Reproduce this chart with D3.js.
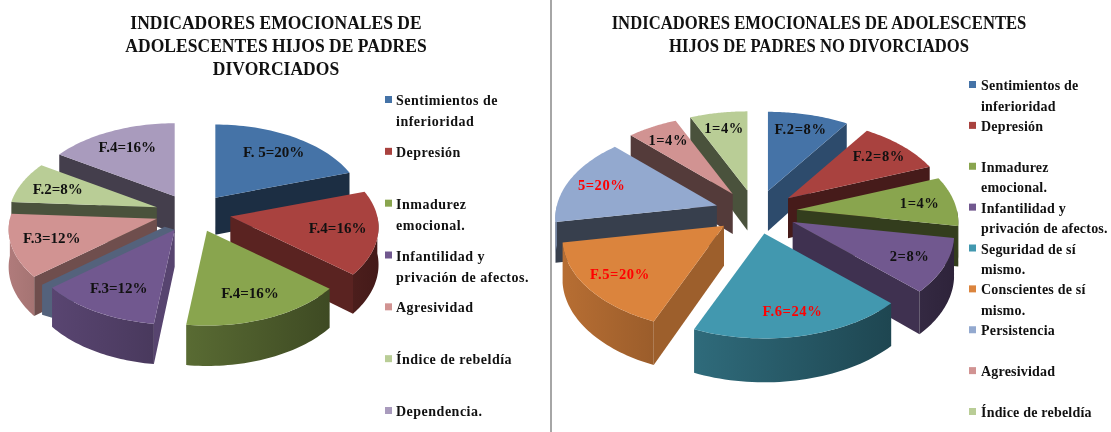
<!DOCTYPE html>
<html><head><meta charset="utf-8">
<script src="https://cdn.jsdelivr.net/npm/d3@7"></script>
<style>html,body{margin:0;padding:0;background:#fff}svg{display:block;filter:blur(0.45px)}text{font-family:"Liberation Serif",serif;font-weight:bold;fill:#111}</style>
</head><body><svg id="c" width="1111" height="432"></svg>
<script>
// ---- data ----
const leftTitle = ["INDICADORES EMOCIONALES DE","ADOLESCENTES HIJOS DE PADRES","DIVORCIADOS"];
const rightTitle = ["INDICADORES EMOCIONALES DE ADOLESCENTES","HIJOS DE PADRES NO DIVORCIADOS"];
const leftCategories = ["Sentimientos de|inferioridad","Depresión","Inmadurez|emocional.","Infantilidad y|privación de afectos.","Agresividad","Índice de rebeldía","Dependencia."];
const leftValues = [20,16,16,12,12,8,16];
const leftLabels = ["F. 5=20%","F.4=16%","F.4=16%","F.3=12%","F.3=12%","F.2=8%","F.4=16%"];
const leftKeys = ["blue","red","green","purple","pink","lime","lilac"];
const rightCategories = ["Sentimientos de|inferioridad","Depresión","Inmadurez|emocional.","Infantilidad y|privación de afectos.","Seguridad de sí|mismo.","Conscientes de sí|mismo.","Persistencia","Agresividad","Índice de rebeldía"];
// wedge sizes as drawn in the picture (the printed labels are hand-typed and differ)
const rightValues = [9.4,9.7,8.6,9.4,19.2,15.8,15.3,5.8,6.7];
const rightLabels = ["F.2=8%","F.2=8%","1=4%","2=8%","F.6=24%","F.5=20%","5=20%","1=4%","1=4%"];
const rightKeys = ["blue","red","green","purple","teal","orange","peri","pink","lime"];
const rightRed = ["F.6=24%","F.5=20%","5=20%"];
const palette = {blue:"#4573a7",red:"#a9423f",green:"#89a54e",purple:"#71588f",teal:"#4298af",orange:"#db843d",peri:"#93a9cf",pink:"#d19392",lime:"#b9cd96",lilac:"#a99bbd"};

const svg = d3.select("#c");
const defs = svg.append("defs");
const line = d3.line().curve(d3.curveLinear);
let gid = 0;
const HALF = Math.PI/2, TAU = 2*Math.PI;

function pie3d(o){
  const g = svg.append("g");
  const arcs = d3.pie().sort(null).startAngle(0).endAngle(TAU)(o.values);
  const project = (a,f,b,d)=>{
    const u=Math.sin(a)*f, v=-Math.cos(a)*f, s=1+o.k*v;
    const ax=o.cx+o.ex*Math.sin(b), ay=o.cy-o.ey*Math.cos(b);
    return [ax+o.R*u*s, ay+o.ry*v*s+d*(1+o.k*0.7*v)];
  };
  const items = arcs.map((d,i)=>({d,i,mid:(d.startAngle+d.endAngle)/2}));
  items.sort((p,q)=>(-Math.cos(p.mid))-(-Math.cos(q.mid)));
  items.forEach(it=>{
    const {d,i,mid}=it, col=d3.color(palette[o.keys[i]]);
    const dk=(c,f)=>d3.rgb(c.r*f,c.g*f,c.b*f).formatHex();
    const wall=(a)=>{
      const f=a>3*HALF ? 0.4 : 0.36+0.42*Math.pow(Math.cos(a),2);
      g.append("path").attr("d",line([project(a,0,mid,0),project(a,1,mid,0),project(a,1,mid,o.depth),project(a,0,mid,o.depth)])+"Z").attr("fill",dk(col,f));
    };
    if(Math.sin(d.startAngle)<0) wall(d.startAngle);
    if(Math.sin(d.endAngle)>0) wall(d.endAngle);
    if(o.ghost && o.ghost.i===i){
      const G=o.ghost, a=d.endAngle, A=project(a,0,mid,0), O=project(a,1,mid,0);
      g.append("path").attr("d",line([[A[0]+G.dx,A[1]+G.dy],[O[0]+G.dx,O[1]+G.dy],[O[0]+G.dx,O[1]+G.dy+G.h],[O[0],O[1]+G.h],A])+"Z").attr("fill",G.fill);
    }
    const a0=Math.max(d.startAngle,HALF), a1=Math.min(d.endAngle,3*HALF);
    if(a1>a0){
      const N=40, th=d3.range(N+1).map(j=>a0+(a1-a0)*j/N);
      const outer=th.map(a=>project(a,1,mid,0)), outerB=th.map(a=>project(a,1,mid,o.depth)).reverse();
      const id="w"+(gid++), lit=a=>0.62-0.22*Math.sin(a);
      const gr=defs.append("linearGradient").attr("id",id).attr("gradientUnits","userSpaceOnUse")
        .attr("x1",d3.min(outer,p=>p[0])).attr("x2",d3.max(outer,p=>p[0])).attr("y1",0).attr("y2",0);
      gr.append("stop").attr("offset",0).attr("stop-color",dk(col,lit(a1)));
      gr.append("stop").attr("offset",1).attr("stop-color",dk(col,lit(a0)));
      g.append("path").attr("d",line(outer.concat(outerB))+"Z").attr("fill",`url(#${id})`);
    }
    const N2=40, rim=d3.range(N2+1).map(j=>project(d.startAngle+(d.endAngle-d.startAngle)*j/N2,1,mid,0));
    g.append("path").attr("d",line([project(0,0,mid,0)].concat(rim))+"Z").attr("fill",col.formatHex());
  });
  items.sort((p,q)=>p.i-q.i).forEach(it=>{
    const [x,y]=project(it.mid,o.labelF,it.mid,0), t=o.labels[it.i];
    g.append("text").attr("x",x).attr("y",y+5).attr("text-anchor","middle")
     .attr("font-size",o.labelSize).style("letter-spacing",o.labelSpacing+"px")
     .style("fill",o.redLabels.includes(t)?"#ff0000":"#111").text(t);
  });
}

function title(lines,cx,y0,dy,size,sx){
  lines.forEach((t,i)=>svg.append("text").attr("text-anchor","middle")
    .attr("transform",`translate(${cx},${y0+i*dy}) scale(${sx},1)`)
    .attr("font-size",size).text(t));
}
function legend(o){
  const y=d3.scalePoint().domain(o.cats).range([o.y0,o.y1]);
  o.cats.forEach((c,i)=>{
    svg.append("rect").attr("x",o.x).attr("y",y(c)-4).attr("width",7).attr("height",7).attr("fill",palette[o.keys[i]]);
    c.split("|").forEach((t,j)=>svg.append("text").attr("x",o.x+o.tx).attr("y",y(c)+5+j*o.lh)
      .attr("font-size",o.size).style("letter-spacing",o.spacing+"px").text(t));
  });
}

svg.append("line").attr("x1",551).attr("x2",551).attr("y1",0).attr("y2",432).attr("stroke","#a6a6a6").attr("stroke-width",2);

pie3d({values:leftValues,keys:leftKeys,labels:leftLabels,redLabels:[],cx:193,cy:213,ex:38,ey:19,R:147,ry:84,k:0.13,depth:37,labelF:0.73,labelSize:15,labelSpacing:0,ghost:{i:3,dx:-10,dy:-3,h:30,fill:"#54627c"}});
pie3d({values:rightValues,keys:rightKeys,labels:rightLabels,redLabels:rightRed,cx:756,cy:212,ex:41,ey:22,R:160,ry:92,k:0.14,depth:40,labelF:0.78,labelSize:14.5,labelSpacing:0.6});

title(leftTitle,276,29,23,18,0.975);
title(rightTitle,819,29,23,18,0.925);
legend({cats:leftCategories,keys:leftKeys,x:385,tx:11,y0:100,y1:411,lh:21,size:14,spacing:0.5});
legend({cats:rightCategories,keys:rightKeys,x:969,tx:12,y0:85,y1:412,lh:20.5,size:14,spacing:0.2});
</script></body></html>
